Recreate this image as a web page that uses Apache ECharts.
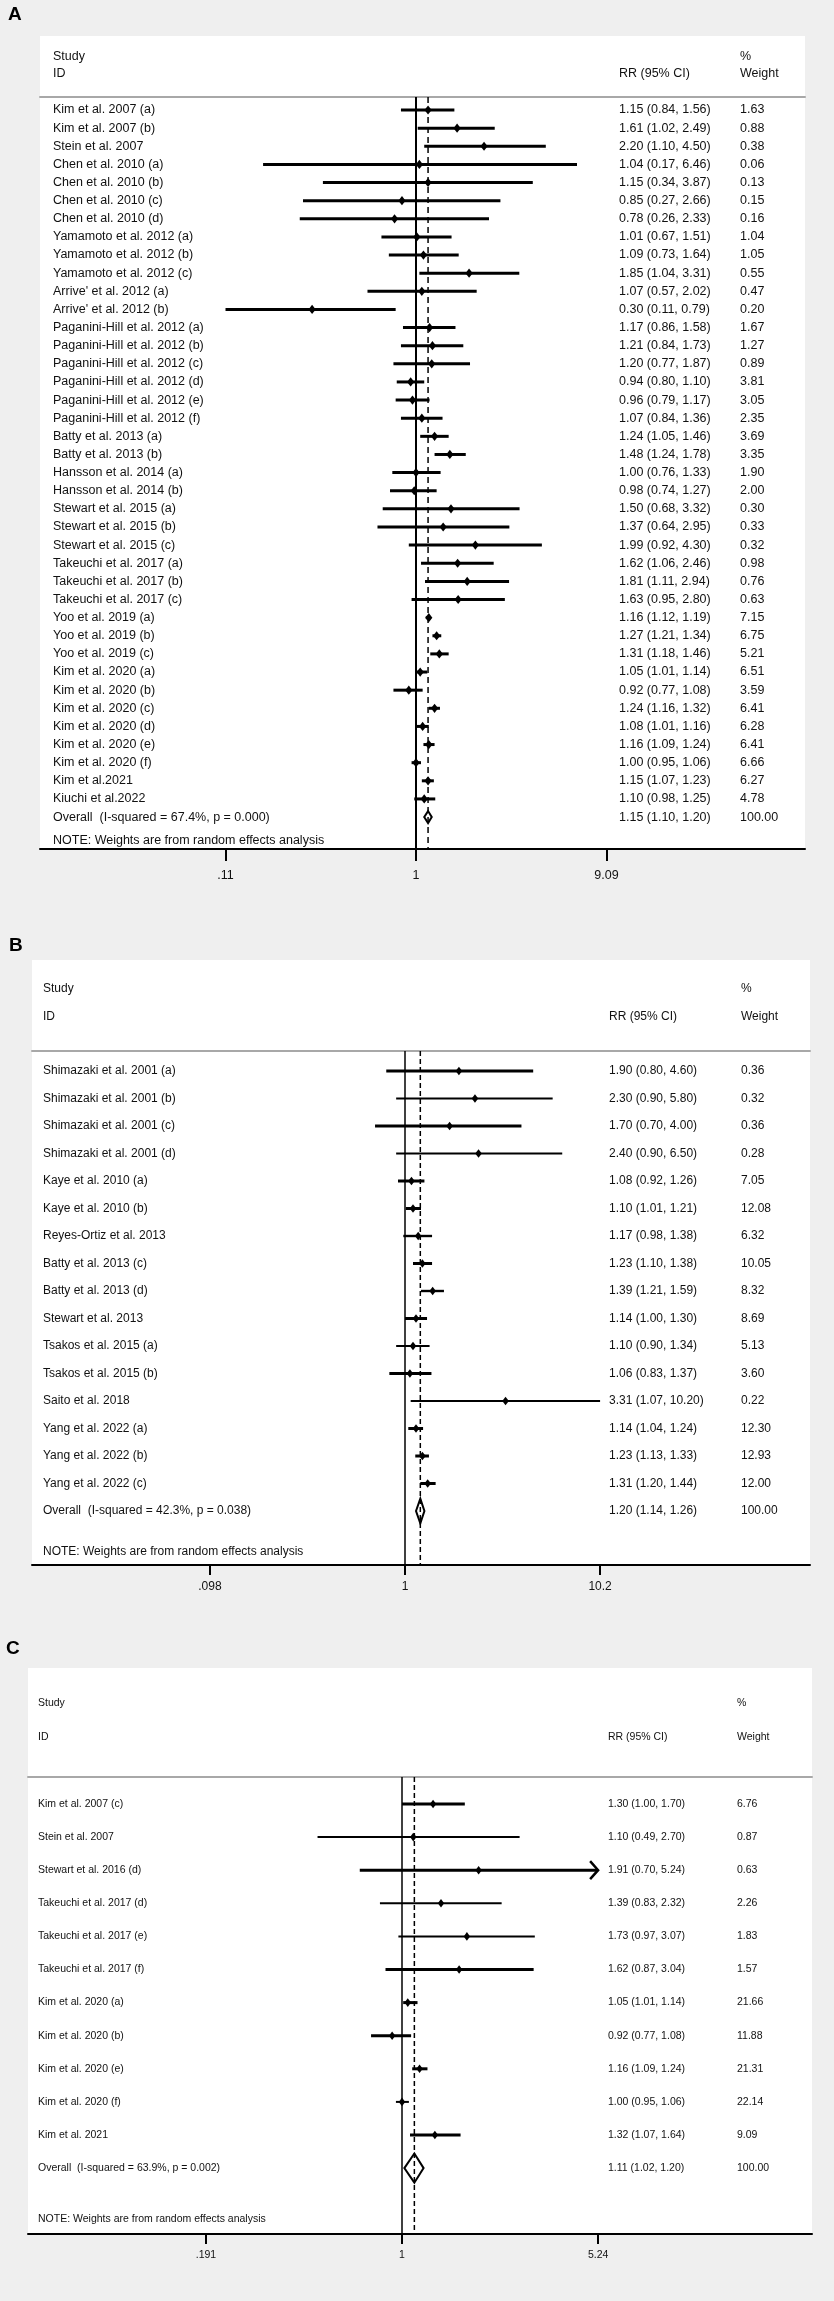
<!DOCTYPE html>
<html><head><meta charset="utf-8">
<script src="https://cdn.jsdelivr.net/npm/echarts@6/dist/echarts.min.js"></script>
<style>html,body{margin:0;padding:0;background:#efefef}#c{width:834px;height:2301px}</style>
</head><body><div id="c"></div><script>
// ---------- Panel A data ----------
const namesA = ["Kim et al. 2007 (a)","Kim et al. 2007 (b)","Stein et al. 2007","Chen et al. 2010 (a)","Chen et al. 2010 (b)","Chen et al. 2010 (c)","Chen et al. 2010 (d)","Yamamoto et al. 2012 (a)","Yamamoto et al. 2012 (b)","Yamamoto et al. 2012 (c)","Arrive' et al. 2012 (a)","Arrive' et al. 2012 (b)","Paganini-Hill et al. 2012 (a)","Paganini-Hill et al. 2012 (b)","Paganini-Hill et al. 2012 (c)","Paganini-Hill et al. 2012 (d)","Paganini-Hill et al. 2012 (e)","Paganini-Hill et al. 2012 (f)","Batty et al. 2013 (a)","Batty et al. 2013 (b)","Hansson et al. 2014 (a)","Hansson et al. 2014 (b)","Stewart et al. 2015 (a)","Stewart et al. 2015 (b)","Stewart et al. 2015 (c)","Takeuchi et al. 2017 (a)","Takeuchi et al. 2017 (b)","Takeuchi et al. 2017 (c)","Yoo et al. 2019 (a)","Yoo et al. 2019 (b)","Yoo et al. 2019 (c)","Kim et al. 2020 (a)","Kim et al. 2020 (b)","Kim et al. 2020 (c)","Kim et al. 2020 (d)","Kim et al. 2020 (e)","Kim et al. 2020 (f)","Kim et al.2021","Kiuchi et al.2022"];
const estA = [1.15,1.61,2.20,1.04,1.15,0.85,0.78,1.01,1.09,1.85,1.07,0.30,1.17,1.21,1.20,0.94,0.96,1.07,1.24,1.48,1.00,0.98,1.50,1.37,1.99,1.62,1.81,1.63,1.16,1.27,1.31,1.05,0.92,1.24,1.08,1.16,1.00,1.15,1.10];
const loA  = [0.84,1.02,1.10,0.17,0.34,0.27,0.26,0.67,0.73,1.04,0.57,0.11,0.86,0.84,0.77,0.80,0.79,0.84,1.05,1.24,0.76,0.74,0.68,0.64,0.92,1.06,1.11,0.95,1.12,1.21,1.18,1.01,0.77,1.16,1.01,1.09,0.95,1.07,0.98];
const hiA  = [1.56,2.49,4.50,6.46,3.87,2.66,2.33,1.51,1.64,3.31,2.02,0.79,1.58,1.73,1.87,1.10,1.17,1.36,1.46,1.78,1.33,1.27,3.32,2.95,4.30,2.46,2.94,2.80,1.19,1.34,1.46,1.14,1.08,1.32,1.16,1.24,1.06,1.23,1.25];
const wtA  = [1.63,0.88,0.38,0.06,0.13,0.15,0.16,1.04,1.05,0.55,0.47,0.20,1.67,1.27,0.89,3.81,3.05,2.35,3.69,3.35,1.90,2.00,0.30,0.33,0.32,0.98,0.76,0.63,7.15,6.75,5.21,6.51,3.59,6.41,6.28,6.41,6.66,6.27,4.78];
const overallLabelA = "Overall  (I-squared = 67.4%, p = 0.000)";
const overallA = [1.15, 1.10, 1.20];   // est, lower, upper
const overallWtA = 100.00;
const ticksA = [".11", "1", "9.09"];

// ---------- Panel B data ----------
const namesB = ["Shimazaki et al. 2001 (a)","Shimazaki et al. 2001 (b)","Shimazaki et al. 2001 (c)","Shimazaki et al. 2001 (d)","Kaye et al. 2010 (a)","Kaye et al. 2010 (b)","Reyes-Ortiz et al. 2013","Batty et al. 2013 (c)","Batty et al. 2013 (d)","Stewart et al. 2013","Tsakos et al. 2015 (a)","Tsakos et al. 2015 (b)","Saito et al. 2018","Yang et al. 2022 (a)","Yang et al. 2022 (b)","Yang et al. 2022 (c)"];
const estB = [1.90,2.30,1.70,2.40,1.08,1.10,1.17,1.23,1.39,1.14,1.10,1.06,3.31,1.14,1.23,1.31];
const loB  = [0.80,0.90,0.70,0.90,0.92,1.01,0.98,1.10,1.21,1.00,0.90,0.83,1.07,1.04,1.13,1.20];
const hiB  = [4.60,5.80,4.00,6.50,1.26,1.21,1.38,1.38,1.59,1.30,1.34,1.37,10.20,1.24,1.33,1.44];
const wtB  = [0.36,0.32,0.36,0.28,7.05,12.08,6.32,10.05,8.32,8.69,5.13,3.60,0.22,12.30,12.93,12.00];
const overallLabelB = "Overall  (I-squared = 42.3%, p = 0.038)";
const overallB = [1.20, 1.14, 1.26];
const overallWtB = 100.00;
const ticksB = [".098", "1", "10.2"];

// ---------- Panel C data ----------
const namesC = ["Kim et al. 2007 (c)","Stein et al. 2007","Stewart et al. 2016 (d)","Takeuchi et al. 2017 (d)","Takeuchi et al. 2017 (e)","Takeuchi et al. 2017 (f)","Kim et al. 2020 (a)","Kim et al. 2020 (b)","Kim et al. 2020 (e)","Kim et al. 2020 (f)","Kim et al. 2021"];
const estC = [1.30,1.10,1.91,1.39,1.73,1.62,1.05,0.92,1.16,1.00,1.32];
const loC  = [1.00,0.49,0.70,0.83,0.97,0.87,1.01,0.77,1.09,0.95,1.07];
const hiC  = [1.70,2.70,5.24,2.32,3.07,3.04,1.14,1.08,1.24,1.06,1.64];
const wtC  = [6.76,0.87,0.63,2.26,1.83,1.57,21.66,11.88,21.31,22.14,9.09];
const overallLabelC = "Overall  (I-squared = 63.9%, p = 0.002)";
const overallC = [1.11, 1.02, 1.20];
const overallWtC = 100.00;
const ticksC = [".191", "1", "5.24"];

// ---------- styles (kept apart from the data) ----------
const lineWidthA = namesA.map(() => 3);
const lineWidthB = [3,1.8,3,1.8,3,3,2.4,3,2.4,3,1.8,3,1.8,3,3,3];
const lineWidthC = [3,2,3,2,2,3,3,3,3,2,3];
const arrowRowsC = [2];

const FONT = '"Liberation Sans", Arial, Helvetica, sans-serif';

const panels = [
  {letter:'A', names:namesA, est:estA, lo:loA, hi:hiA, wt:wtA, ovLabel:overallLabelA, ov:overallA, ovWt:overallWtA, ticks:ticksA, lw:lineWidthA, arrows:[],
   L:{letterX:8, letterY:15, box:[40,36,805,849], sepY:97, row0:110, step:18.13, studyX:53, rrX:619, wtX:740, hdr:[57,74], noteY:841,
      cx:416, k:86.3, tickLen:12, labMargin:20, fs:12.5, vlw:2, dash:[6,4], mw:3.6, mh:4.6, ovR:0.33}},
  {letter:'B', names:namesB, est:estB, lo:loB, hi:hiB, wt:wtB, ovLabel:overallLabelB, ov:overallB, ovWt:overallWtB, ticks:ticksB, lw:lineWidthB, arrows:[],
   L:{letterX:9, letterY:946, box:[32,960,810,1565], sepY:1051, row0:1071, step:27.5, studyX:43, rrX:609, wtX:741, hdr:[989,1017], noteY:1552,
      cx:405, k:84, tickLen:10, labMargin:16, fs:12, vlw:1.5, dash:[5,3], mw:3.3, mh:4.2, ovR:0.45}},
  {letter:'C', names:namesC, est:estC, lo:loC, hi:hiC, wt:wtC, ovLabel:overallLabelC, ov:overallC, ovWt:overallWtC, ticks:ticksC, lw:lineWidthC, arrows:arrowRowsC,
   L:{letterX:6, letterY:1649, box:[28,1668,812,2234], sepY:1777, row0:1804, step:33.1, studyX:38, rrX:608, wtX:737, hdr:[1703,1737], noteY:2219,
      cx:402, k:118.4, tickLen:10, labMargin:16, fs:10.5, vlw:1.5, dash:[5,3], mw:3.2, mh:4.3, ovR:0.44}}
];

const fmt = (e, l, h) => e.toFixed(2) + ' (' + l.toFixed(2) + ', ' + h.toFixed(2) + ')';

const grid = [], xAxis = [], yAxis = [], series = [], graphic = [];

function txt(x, y, s, fs, extra) {
  return Object.assign({type:'text', z:5, style:{x:x, y:y, text:s, fontSize:fs, fontFamily:FONT, fill:'#111',
    align:'left', verticalAlign:'middle', textAlign:'left', textVerticalAlign:'middle'}}, extra || {});
}

panels.forEach((p, gi) => {
  const L = p.L;
  const [bl, bt, br, bb] = L.box;
  const n = p.names.length;
  const xMin = (bl - L.cx) / L.k, xMax = (br - L.cx) / L.k;
  const yMin = (L.sepY - L.row0) / L.step, yMax = (bb - L.row0) / L.step;
  const rows = []; for (let i = 0; i <= n; i++) rows.push(i);
  const studyLabels = p.names.concat([p.ovLabel]);
  const rrLabels = p.names.map((_, i) => fmt(p.est[i], p.lo[i], p.hi[i])).concat([fmt(p.ov[0], p.ov[1], p.ov[2])]);
  const wtLabels = p.wt.map(v => v.toFixed(2)).concat([p.ovWt.toFixed(2)]);
  const tickNums = p.ticks.map(t => parseFloat(t));
  const tickVals = tickNums.map(v => Math.log(v));

  // white plot box, letter, headers, note
  graphic.push({type:'rect', z:0, shape:{x:bl, y:bt, width:br - bl, height:bb - bt}, style:{fill:'#ffffff'}});
  graphic.push(txt(L.letterX, L.letterY, p.letter, 19, {}));
  graphic[graphic.length - 1].style.fontWeight = 'bold';
  graphic[graphic.length - 1].style.fill = '#000';
  graphic.push(txt(L.studyX, L.hdr[0], 'Study', L.fs));
  graphic.push(txt(L.studyX, L.hdr[1], 'ID', L.fs));
  graphic.push(txt(L.rrX, L.hdr[1], 'RR (95% CI)', L.fs));
  graphic.push(txt(L.wtX, L.hdr[0], '%', L.fs));
  graphic.push(txt(L.wtX, L.hdr[1], 'Weight', L.fs));
  graphic.push(txt(L.studyX, L.noteY, 'NOTE: Weights are from random effects analysis', L.fs));

  grid.push({left:bl, top:L.sepY, width:br - bl, height:bb - L.sepY, containLabel:false});

  const xi = xAxis.length;
  xAxis.push({gridIndex:gi, type:'value', min:xMin, max:xMax, position:'bottom',
    axisLine:{show:true, onZero:false, lineStyle:{color:'#000', width:2}},
    axisTick:{show:true, customValues:tickVals, length:L.tickLen, lineStyle:{color:'#000', width:2}},
    axisLabel:{show:true, customValues:tickVals, margin:L.labMargin, color:'#111', fontSize:L.fs, fontFamily:FONT,
      formatter:(v) => { let b = 0; tickVals.forEach((t, j) => { if (Math.abs(t - v) < Math.abs(tickVals[b] - v)) b = j; }); return p.ticks[b]; }},
    splitLine:{show:false}});
  xAxis.push({gridIndex:gi, type:'value', min:xMin, max:xMax, position:'top',
    axisLine:{show:true, onZero:false, lineStyle:{color:'#a8a8a8', width:2}},
    axisTick:{show:false}, axisLabel:{show:false}, splitLine:{show:false}});

  const yi = yAxis.length;
  const yBase = {gridIndex:gi, type:'value', inverse:true, min:yMin, max:yMax, position:'left',
    axisLine:{show:false}, axisTick:{show:false}, splitLine:{show:false}};
  yAxis.push(Object.assign({}, yBase, {axisLabel:{inside:true, margin:L.studyX - bl, customValues:rows, color:'#111', fontSize:L.fs, fontFamily:FONT,
    formatter:(v) => studyLabels[Math.round(v)] || ''}}));
  yAxis.push(Object.assign({}, yBase, {offset:-(L.rrX - bl), axisLabel:{inside:true, margin:0, customValues:rows, color:'#111', fontSize:L.fs, fontFamily:FONT,
    formatter:(v) => rrLabels[Math.round(v)] || ''}}));
  yAxis.push(Object.assign({}, yBase, {offset:-(L.wtX - bl), axisLabel:{inside:true, margin:0, customValues:rows, color:'#111', fontSize:L.fs, fontFamily:FONT,
    formatter:(v) => wtLabels[Math.round(v)] || ''}}));

  // reference line at RR = 1 and dashed line at overall estimate
  series.push({type:'line', xAxisIndex:xi, yAxisIndex:yi, data:[[0, yMin], [0, yMax]], symbol:'none', silent:true, z:2,
    lineStyle:{color:'#000', width:L.vlw}});
  series.push({type:'line', xAxisIndex:xi, yAxisIndex:yi, data:[[Math.log(p.ov[0]), yMin], [Math.log(p.ov[0]), yMax]], symbol:'none', silent:true, z:2,
    lineStyle:{color:'#000', width:1.5, type:L.dash}});

  // study CIs and point estimates
  const ciData = p.names.map((_, i) => [Math.log(p.lo[i]), Math.log(p.hi[i]), Math.log(p.est[i]), i]);
  series.push({type:'custom', xAxisIndex:xi, yAxisIndex:yi, data:ciData, z:3, silent:true,
    encode:{x:[0, 1, 2], y:3},
    renderItem:(params, api) => {
      const r = api.value(3);
      const a = api.coord([api.value(0), r]), b = api.coord([api.value(1), r]), e = api.coord([api.value(2), r]);
      const lw = p.lw[params.dataIndex];
      const ch = [
        {type:'line', shape:{x1:a[0], y1:a[1], x2:b[0], y2:b[1]}, style:{stroke:'#000', lineWidth:lw}},
        {type:'polygon', shape:{points:[[e[0], e[1] - L.mh], [e[0] + L.mw, e[1]], [e[0], e[1] + L.mh], [e[0] - L.mw, e[1]]]}, style:{fill:'#000'}}
      ];
      if (p.arrows.indexOf(params.dataIndex) >= 0) {
        ch.push({type:'polyline', shape:{points:[[b[0] - 8, b[1] - 9], [b[0], b[1]], [b[0] - 8, b[1] + 9]]}, style:{stroke:'#000', fill:null, lineWidth:2.5}});
      }
      return {type:'group', children:ch};
    }});

  // overall diamond
  series.push({type:'custom', xAxisIndex:xi, yAxisIndex:yi, z:4, silent:true,
    data:[[Math.log(p.ov[1]), Math.log(p.ov[2]), Math.log(p.ov[0]), n]],
    encode:{x:[0, 1, 2], y:3},
    renderItem:(params, api) => {
      const r = api.value(3);
      const a = api.coord([api.value(0), r]), b = api.coord([api.value(1), r]), e = api.coord([api.value(2), r]);
      const h = api.size([0, 1])[1] * L.ovR;
      return {type:'polygon', shape:{points:[[a[0], a[1]], [e[0], e[1] - h], [b[0], b[1]], [e[0], e[1] + h]]},
        style:{stroke:'#000', fill:'none', lineWidth:2}};
    }});
});

const chart = echarts.init(document.getElementById('c'), null, {renderer:'canvas'});
chart.setOption({backgroundColor:'#efefef', animation:false, grid, xAxis, yAxis, series, graphic});
</script></body></html>
